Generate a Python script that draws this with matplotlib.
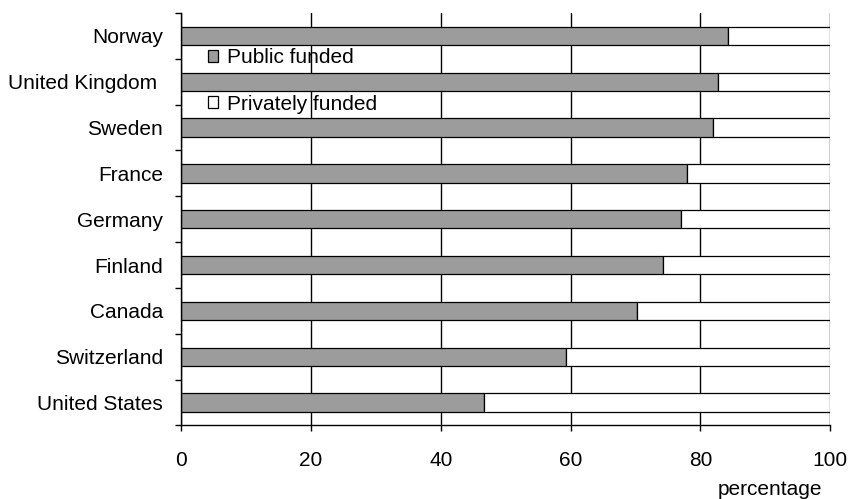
import numpy as np
import matplotlib
matplotlib.use('Agg')
import matplotlib.pyplot as plt
from matplotlib.patches import Patch

plt.rcParams['font.family'] = ['Liberation Sans', 'DejaVu Sans']

# data, bottom to top as drawn
countries = ['United States', 'Switzerland', 'Canada', 'Finland', 'Germany',
             'France', 'Sweden', 'United Kingdom ', 'Norway']
public = [46.6, 59.3, 70.3, 74.3, 77.0, 78.0, 81.9, 82.7, 84.2]
private = [100 - p for p in public]


def PlotFunding():

    fig, ax = plt.subplots(1, 1, figsize=(8.49, 4.99), dpi=100)
    fig.subplots_adjust(left=0.2132, right=0.978, top=0.974, bottom=0.1473)

    y = np.arange(len(countries))
    ax.barh(y, public, height=0.4, color='#9c9c9c', edgecolor='black', linewidth=0.9)
    ax.barh(y, private, left=public, height=0.4, color='white', edgecolor='black', linewidth=0.9)

    ax.set_xlim(0, 100)
    ax.set_ylim(-0.5, len(countries) - 0.5)
    ax.set_xticks([0, 20, 40, 60, 80, 100])
    ax.set_yticks(y)
    ax.set_yticklabels(countries)
    ax.set_yticks(np.arange(len(countries) + 1) - 0.5, minor=True)

    ax.tick_params(axis='y', which='major', length=0, pad=13, labelsize=15)
    ax.tick_params(axis='y', which='minor', length=4, width=1, direction='out')
    ax.tick_params(axis='x', length=4, width=1, direction='out', pad=14.5, labelsize=15)

    ax.grid(axis='x', color='black', linewidth=1)
    ax.set_axisbelow(True)
    ax.spines['top'].set_visible(False)
    ax.spines['right'].set_visible(False)
    ax.spines['left'].set_linewidth(1)
    ax.spines['bottom'].set_linewidth(1)

    # axis title sits under the right end of the axis
    ax.text(0.987, -0.156, 'percentage', transform=ax.transAxes,
            ha='right', va='center', fontsize=15)

    handles = [Patch(facecolor='#9c9c9c', edgecolor='black', linewidth=0.9),
               Patch(facecolor='white', edgecolor='black', linewidth=0.9)]
    ax.legend(handles, ['Public funded', 'Privately funded'], loc='center left',
              bbox_to_anchor=(0.0416, 0.835), frameon=False, fontsize=15,
              handlelength=0.5, handleheight=0.5, handletextpad=0.4,
              labelspacing=1.3, borderpad=0, borderaxespad=0)

    plt.savefig('out.png')

    return 0


PlotFunding()
